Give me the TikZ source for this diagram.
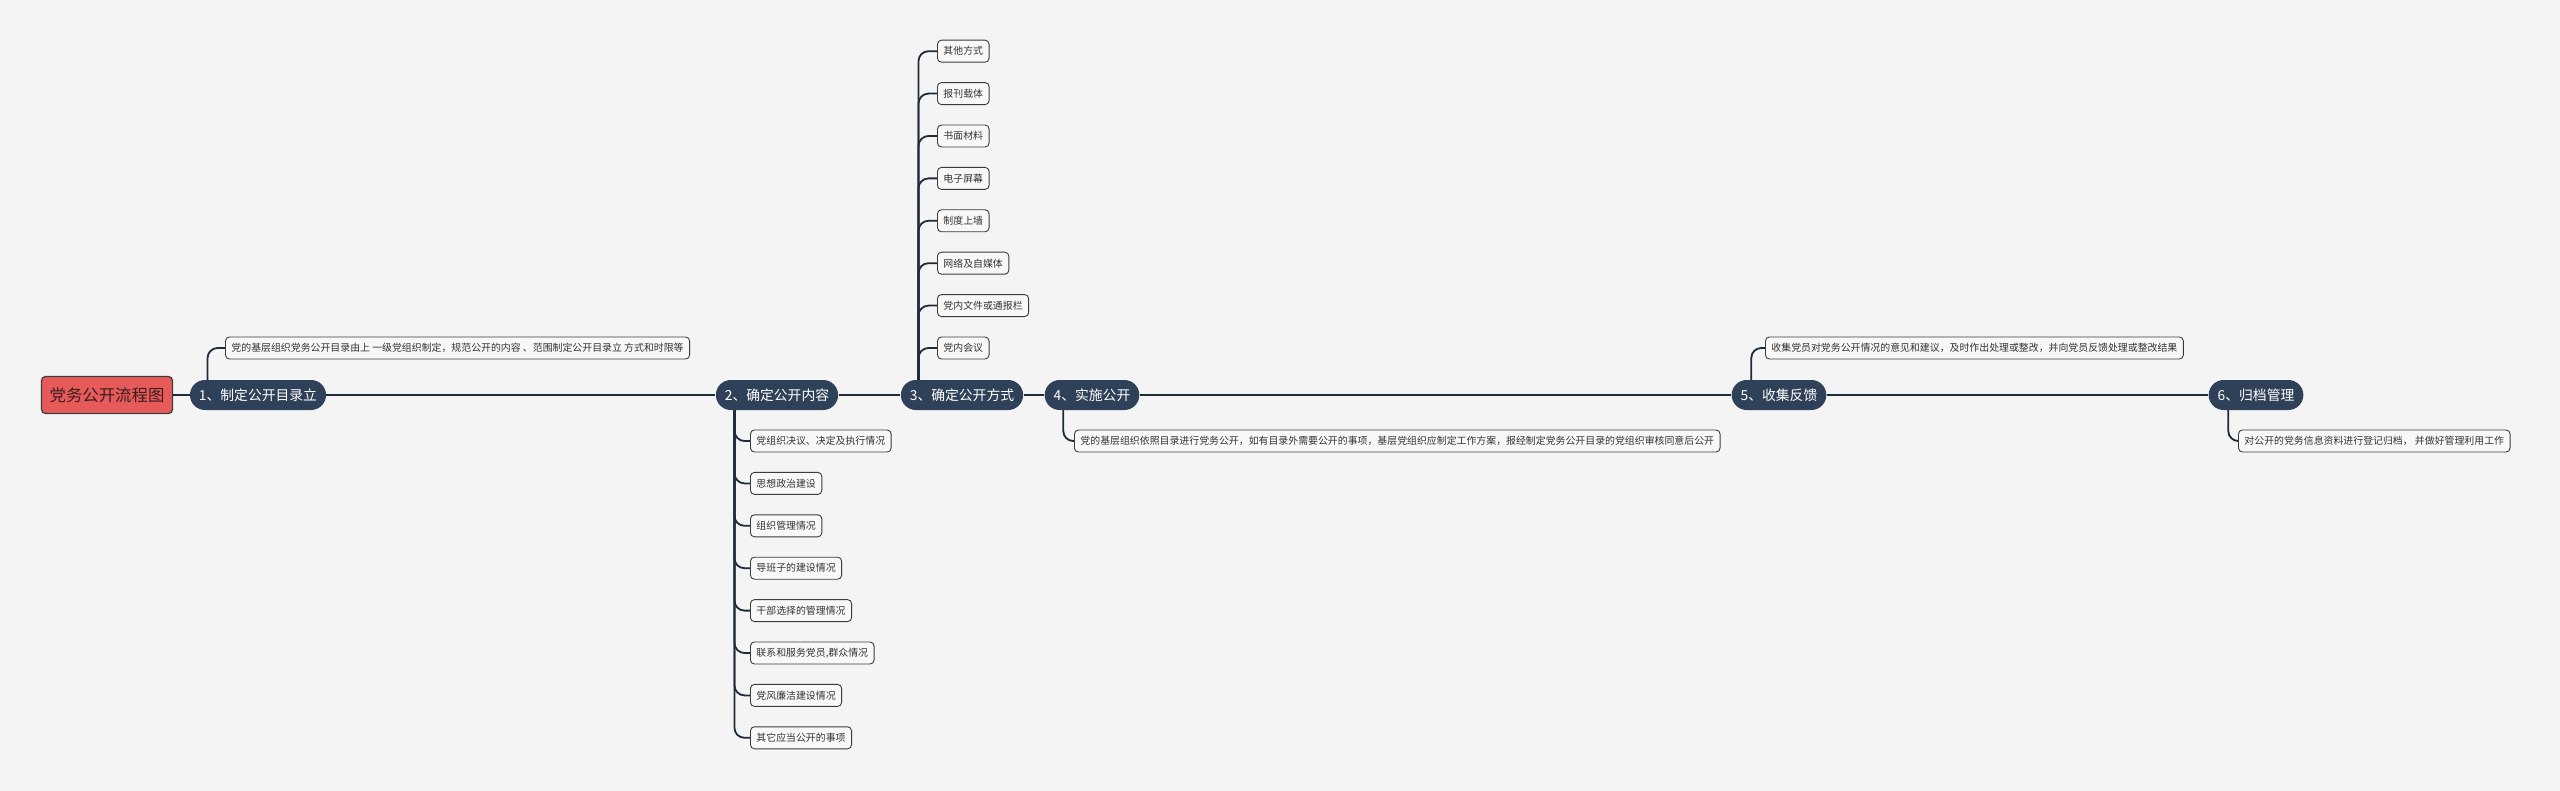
\documentclass[tikz,border=0pt]{standalone}
\usepackage{fontspec}
\setmainfont{Noto Sans CJK SC}
\usetikzlibrary{calc}
\pgfdeclarelayer{background}
\pgfsetlayers{background,main}
\definecolor{bg}{HTML}{F4F4F4}
\definecolor{mainc}{HTML}{2E4158}
\definecolor{rootc}{HTML}{E75A5A}
\definecolor{roott}{HTML}{3A1E1E}
\definecolor{linec}{HTML}{1E2B3A}
\definecolor{boxb}{HTML}{3C3C3C}
\definecolor{leaffill}{HTML}{F8F8F8}
\definecolor{leaft}{HTML}{333333}
\begin{document}
\begin{tikzpicture}[x=0.5pt,y=-0.5pt,
  rootnode/.style={fill=rootc, draw=boxb, line width=0.6pt, rounded corners=2pt, minimum height=18.5pt, minimum width=65.5pt, inner sep=0pt, text=roott, font=\fontsize{8.2}{9}\selectfont},
  mainnode/.style={fill=mainc, text=white, rounded corners=7.5pt, minimum height=15pt, inner xsep=4.5pt, inner ysep=0pt, font=\fontsize{6.9}{8}\selectfont},
  leaf/.style={fill=leaffill, draw=boxb, line width=0.45pt, rounded corners=2pt, minimum height=11pt, inner xsep=3pt, inner ysep=0pt, text=leaft, font=\fontsize{4.95}{5.5}\selectfont, anchor=west},
  conn/.style={draw=linec, line width=0.9pt, rounded corners=5pt},
  mline/.style={draw=linec, line width=0.9pt}
]
\begin{pgfonlayer}{background}
\fill[bg] (0,0) rectangle (2560,791);
\end{pgfonlayer}
\useasboundingbox (0,0) rectangle (2560,791);

\node[rootnode] (root) at (107,395) {党务公开流程图};
\node[mainnode] (n1) at (258,395) {1、制定公开目录立};
\node[mainnode] (n2) at (777,395) {2、确定公开内容};
\node[mainnode] (n3) at (962,395) {3、确定公开方式};
\node[mainnode] (n4) at (1092,395) {4、实施公开};
\node[mainnode] (n5) at (1779,395) {5、收集反馈};
\node[mainnode] (n6) at (2256,395) {6、归档管理};

% children
\node[leaf] (c1) at (225,348) {党的基层组织党务公开目录由上 一级党组织制定，规范公开的内容 、范围制定公开目录立 方式和时限等};

\node[leaf] (c21) at (750,441) {党组织决议、决定及执行情况};
\node[leaf] (c22) at (750,483.4) {思想政治建设};
\node[leaf] (c23) at (750,525.8) {组织管理情况};
\node[leaf] (c24) at (750,568.2) {导班子的建设情况};
\node[leaf] (c25) at (750,610.6) {干部选择的管理情况};
\node[leaf] (c26) at (750,653) {联系和服务党员,群众情况};
\node[leaf] (c27) at (750,695.4) {党风廉洁建设情况};
\node[leaf] (c28) at (750,737.8) {其它应当公开的事项};

\node[leaf] (c31) at (937,51.2) {其他方式};
\node[leaf] (c32) at (937,93.6) {报刊载体};
\node[leaf] (c33) at (937,136) {书面材料};
\node[leaf] (c34) at (937,178.4) {电子屏幕};
\node[leaf] (c35) at (937,220.8) {制度上墙};
\node[leaf] (c36) at (937,263.2) {网络及自媒体};
\node[leaf] (c37) at (937,305.6) {党内文件或通报栏};
\node[leaf] (c38) at (937,348) {党内会议};

\node[leaf] (c4) at (1074,441) {党的基层组织依照目录进行党务公开，如有目录外需要公开的事项，基层党组织应制定工作方案，报经制定党务公开目录的党组织审核同意后公开};
\node[leaf] (c5) at (1765,348) {收集党员对党务公开情况的意见和建议，及时作出处理或整改，并向党员反馈处理或整改结果};
\node[leaf] (c6) at (2238,441) {对公开的党务信息资料进行登记归档， 并做好管理利用工作};

\begin{pgfonlayer}{background}
\draw[mline] (root.east) -- (n1.west);
\draw[mline] (n1.east) -- (n2.west);
\draw[mline] (n2.east) -- (n3.west);
\draw[mline] (n3.east) -- (n4.west);
\draw[mline] (n4.east) -- (n5.west);
\draw[mline] (n5.east) -- (n6.west);
\draw[conn] ($(n1.north west)+(18,8)$) |- (c1.west);
\foreach \c in {c21,c22,c23,c24,c25,c26,c27,c28}
  \draw[conn] ($(n2.south west)+(19,-8)$) |- (\c.west);
\foreach \c in {c31,c32,c33,c34,c35,c36,c37,c38}
  \draw[conn] ($(n3.north west)+(18,8)$) |- (\c.west);
\draw[conn] ($(n4.south west)+(19,-8)$) |- (c4.west);
\draw[conn] ($(n5.north west)+(20,8)$) |- (c5.west);
\draw[conn] ($(n6.south west)+(20,-8)$) |- (c6.west);
\end{pgfonlayer}
\end{tikzpicture}
\end{document}
